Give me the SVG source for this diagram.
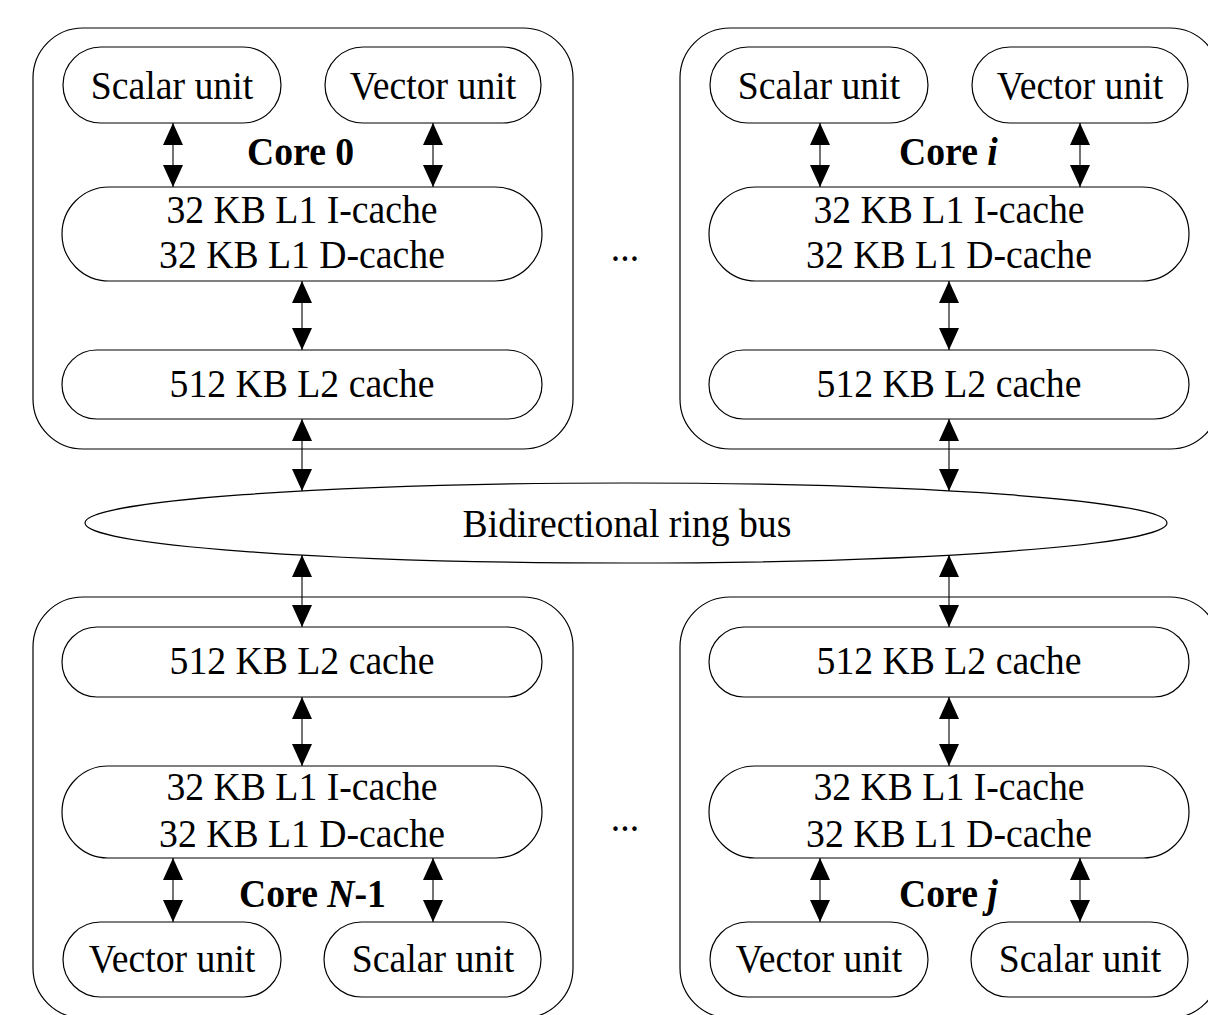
<svg xmlns="http://www.w3.org/2000/svg" width="1208" height="1015" viewBox="0 0 1208 1015">
<defs>
<style>
.box{fill:none;stroke:#000;stroke-width:1.2}
.pill{fill:#fff;stroke:#000;stroke-width:1.2}
.t{font-family:"Liberation Serif","Times New Roman",serif;font-size:41px;fill:#000;text-anchor:middle}
.core{font-family:"Liberation Serif","Times New Roman",serif;font-size:41px;font-weight:bold;fill:#000}
.con{stroke:#000;stroke-width:1.1;fill:none;marker-start:url(#ah);marker-end:url(#ah)}
</style>
<marker id="ah" viewBox="0 0 22 20" refX="22" refY="10" markerWidth="22" markerHeight="20" markerUnits="userSpaceOnUse" orient="auto-start-reverse">
<path d="M0,0 L22,10 L0,20 z" fill="#000"/>
</marker>
</defs>
<rect width="1208" height="1015" fill="#fff"/>

<g id="core0">
<rect class="box" x="33" y="28" width="540" height="421" rx="50"/>
<g id="core0-scalar"><rect class="pill" x="63" y="47" width="218" height="76" rx="38"/><text class="t" transform="translate(172 99) scale(0.92 1)">Scalar unit</text></g>
<g id="core0-vector"><rect class="pill" x="325" y="47" width="216" height="76" rx="38"/><text class="t" transform="translate(433 99) scale(0.92 1)">Vector unit</text></g>
<text class="core" transform="translate(247 165) scale(0.92 1)">Core 0</text>
<g id="core0-l1"><rect class="pill" x="62" y="187" width="480" height="94" rx="47"/><text class="t" transform="translate(302 223) scale(0.92 1)">32 KB L1 I-cache</text><text class="t" transform="translate(302 268) scale(0.92 1)">32 KB L1 D-cache</text></g>
<g id="core0-l2"><rect class="pill" x="62" y="350" width="480" height="69" rx="34.5"/><text class="t" transform="translate(302 397) scale(0.92 1)">512 KB L2 cache</text></g>
</g>

<g id="corei">
<rect class="box" x="680" y="28" width="540" height="421" rx="50"/>
<g id="corei-scalar"><rect class="pill" x="710" y="47" width="218" height="76" rx="38"/><text class="t" transform="translate(819 99) scale(0.92 1)">Scalar unit</text></g>
<g id="corei-vector"><rect class="pill" x="972" y="47" width="216" height="76" rx="38"/><text class="t" transform="translate(1080 99) scale(0.92 1)">Vector unit</text></g>
<text class="core" transform="translate(899 165) scale(0.92 1)">Core <tspan font-style="italic">i</tspan></text>
<g id="corei-l1"><rect class="pill" x="709" y="187" width="480" height="94" rx="47"/><text class="t" transform="translate(949 223) scale(0.92 1)">32 KB L1 I-cache</text><text class="t" transform="translate(949 268) scale(0.92 1)">32 KB L1 D-cache</text></g>
<g id="corei-l2"><rect class="pill" x="709" y="350" width="480" height="69" rx="34.5"/><text class="t" transform="translate(949 397) scale(0.92 1)">512 KB L2 cache</text></g>
</g>

<g id="coreN1">
<rect class="box" x="33" y="597" width="540" height="421" rx="50"/>
<g id="coreN1-l2"><rect class="pill" x="62" y="627" width="480" height="70" rx="35"/><text class="t" transform="translate(302 674) scale(0.92 1)">512 KB L2 cache</text></g>
<g id="coreN1-l1"><rect class="pill" x="62" y="766" width="480" height="92" rx="46"/><text class="t" transform="translate(302 800) scale(0.92 1)">32 KB L1 I-cache</text><text class="t" transform="translate(302 847) scale(0.92 1)">32 KB L1 D-cache</text></g>
<text class="core" transform="translate(239 907) scale(0.92 1)">Core <tspan font-style="italic">N</tspan>-1</text>
<g id="coreN1-vector"><rect class="pill" x="63" y="922" width="218" height="75" rx="37.5"/><text class="t" transform="translate(172 972) scale(0.92 1)">Vector unit</text></g>
<g id="coreN1-scalar"><rect class="pill" x="324" y="922" width="217" height="75" rx="37.5"/><text class="t" transform="translate(433 972) scale(0.92 1)">Scalar unit</text></g>
</g>

<g id="corej">
<rect class="box" x="680" y="597" width="540" height="421" rx="50"/>
<g id="corej-l2"><rect class="pill" x="709" y="627" width="480" height="70" rx="35"/><text class="t" transform="translate(949 674) scale(0.92 1)">512 KB L2 cache</text></g>
<g id="corej-l1"><rect class="pill" x="709" y="766" width="480" height="92" rx="46"/><text class="t" transform="translate(949 800) scale(0.92 1)">32 KB L1 I-cache</text><text class="t" transform="translate(949 847) scale(0.92 1)">32 KB L1 D-cache</text></g>
<text class="core" transform="translate(899 907) scale(0.92 1)">Core <tspan font-style="italic">j</tspan></text>
<g id="corej-vector"><rect class="pill" x="710" y="922" width="218" height="75" rx="37.5"/><text class="t" transform="translate(819 972) scale(0.92 1)">Vector unit</text></g>
<g id="corej-scalar"><rect class="pill" x="971" y="922" width="217" height="75" rx="37.5"/><text class="t" transform="translate(1080 972) scale(0.92 1)">Scalar unit</text></g>
</g>

<g id="bus">
<ellipse cx="626" cy="523" rx="541" ry="40" fill="#fff" stroke="#000" stroke-width="1.2"/>
<text class="t" transform="translate(627 537) scale(0.92 1)">Bidirectional ring bus</text>
</g>

<g id="dots">
<text class="t" transform="translate(625 261) scale(0.92 1)">...</text>
<text class="t" transform="translate(625 831) scale(0.92 1)">...</text>
</g>

<g id="connectors">
<line class="con" x1="173" y1="123" x2="173" y2="187"/>
<line class="con" x1="433" y1="123" x2="433" y2="187"/>
<line class="con" x1="302" y1="281" x2="302" y2="350"/>
<line class="con" x1="302" y1="419" x2="302" y2="491"/>
<line class="con" x1="820" y1="123" x2="820" y2="187"/>
<line class="con" x1="1080" y1="123" x2="1080" y2="187"/>
<line class="con" x1="949" y1="281" x2="949" y2="350"/>
<line class="con" x1="949" y1="419" x2="949" y2="491"/>
<line class="con" x1="302" y1="555" x2="302" y2="627"/>
<line class="con" x1="302" y1="697" x2="302" y2="766"/>
<line class="con" x1="173" y1="858" x2="173" y2="922"/>
<line class="con" x1="433" y1="858" x2="433" y2="922"/>
<line class="con" x1="949" y1="555" x2="949" y2="627"/>
<line class="con" x1="949" y1="697" x2="949" y2="766"/>
<line class="con" x1="820" y1="858" x2="820" y2="922"/>
<line class="con" x1="1080" y1="858" x2="1080" y2="922"/>
</g>
</svg>
